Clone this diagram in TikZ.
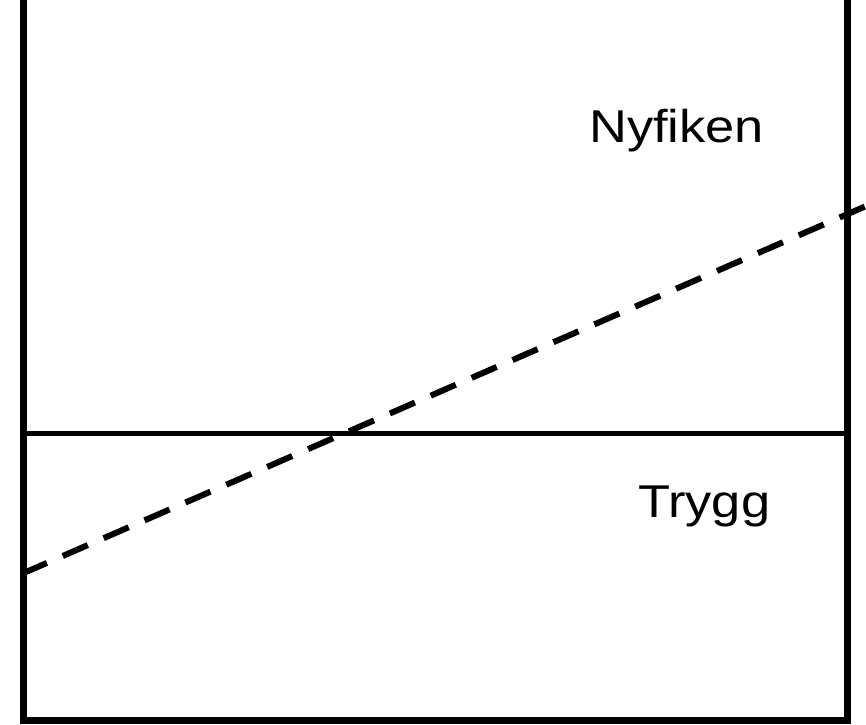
\documentclass[tikz,border=0pt]{standalone}
\usepackage{fontspec}
\setmainfont{Liberation Sans}
\begin{document}
\begin{tikzpicture}[x=1pt,y=1pt,
  wall/.style={line width=7pt, line join=miter},
  divider/.style={line width=5.3pt},
  boundary/.style={line width=6pt, dash pattern=on 27.3pt off 17.3pt, dash phase=2pt},
  label/.style={anchor=base west, inner sep=0pt, font=\fontsize{46}{50}\selectfont}]
\useasboundingbox (0,0) rectangle (866,724);
\coordinate (tl) at (23.7,730);
\coordinate (bl) at (23.7,3.5);
\coordinate (br) at (847,3.5);
\coordinate (tr) at (847,730);
\coordinate (ml) at (23.7,290.6);
\coordinate (mr) at (847,290.6);
\coordinate (ds) at (23.7,151);
\coordinate (de) at (870,519.7);
\draw[wall] (tl) -- (bl) -- (br) -- (tr);
\draw[divider] (ml) -- (mr);
\draw[boundary] (ds) -- (de);
\node[label] (nyfiken) at (589,581) {\scalebox{1.14}[1]{Nyfiken}};
\node[label] (trygg) at (638,207) {\scalebox{1.14}[1]{Trygg}};
\end{tikzpicture}
\end{document}
